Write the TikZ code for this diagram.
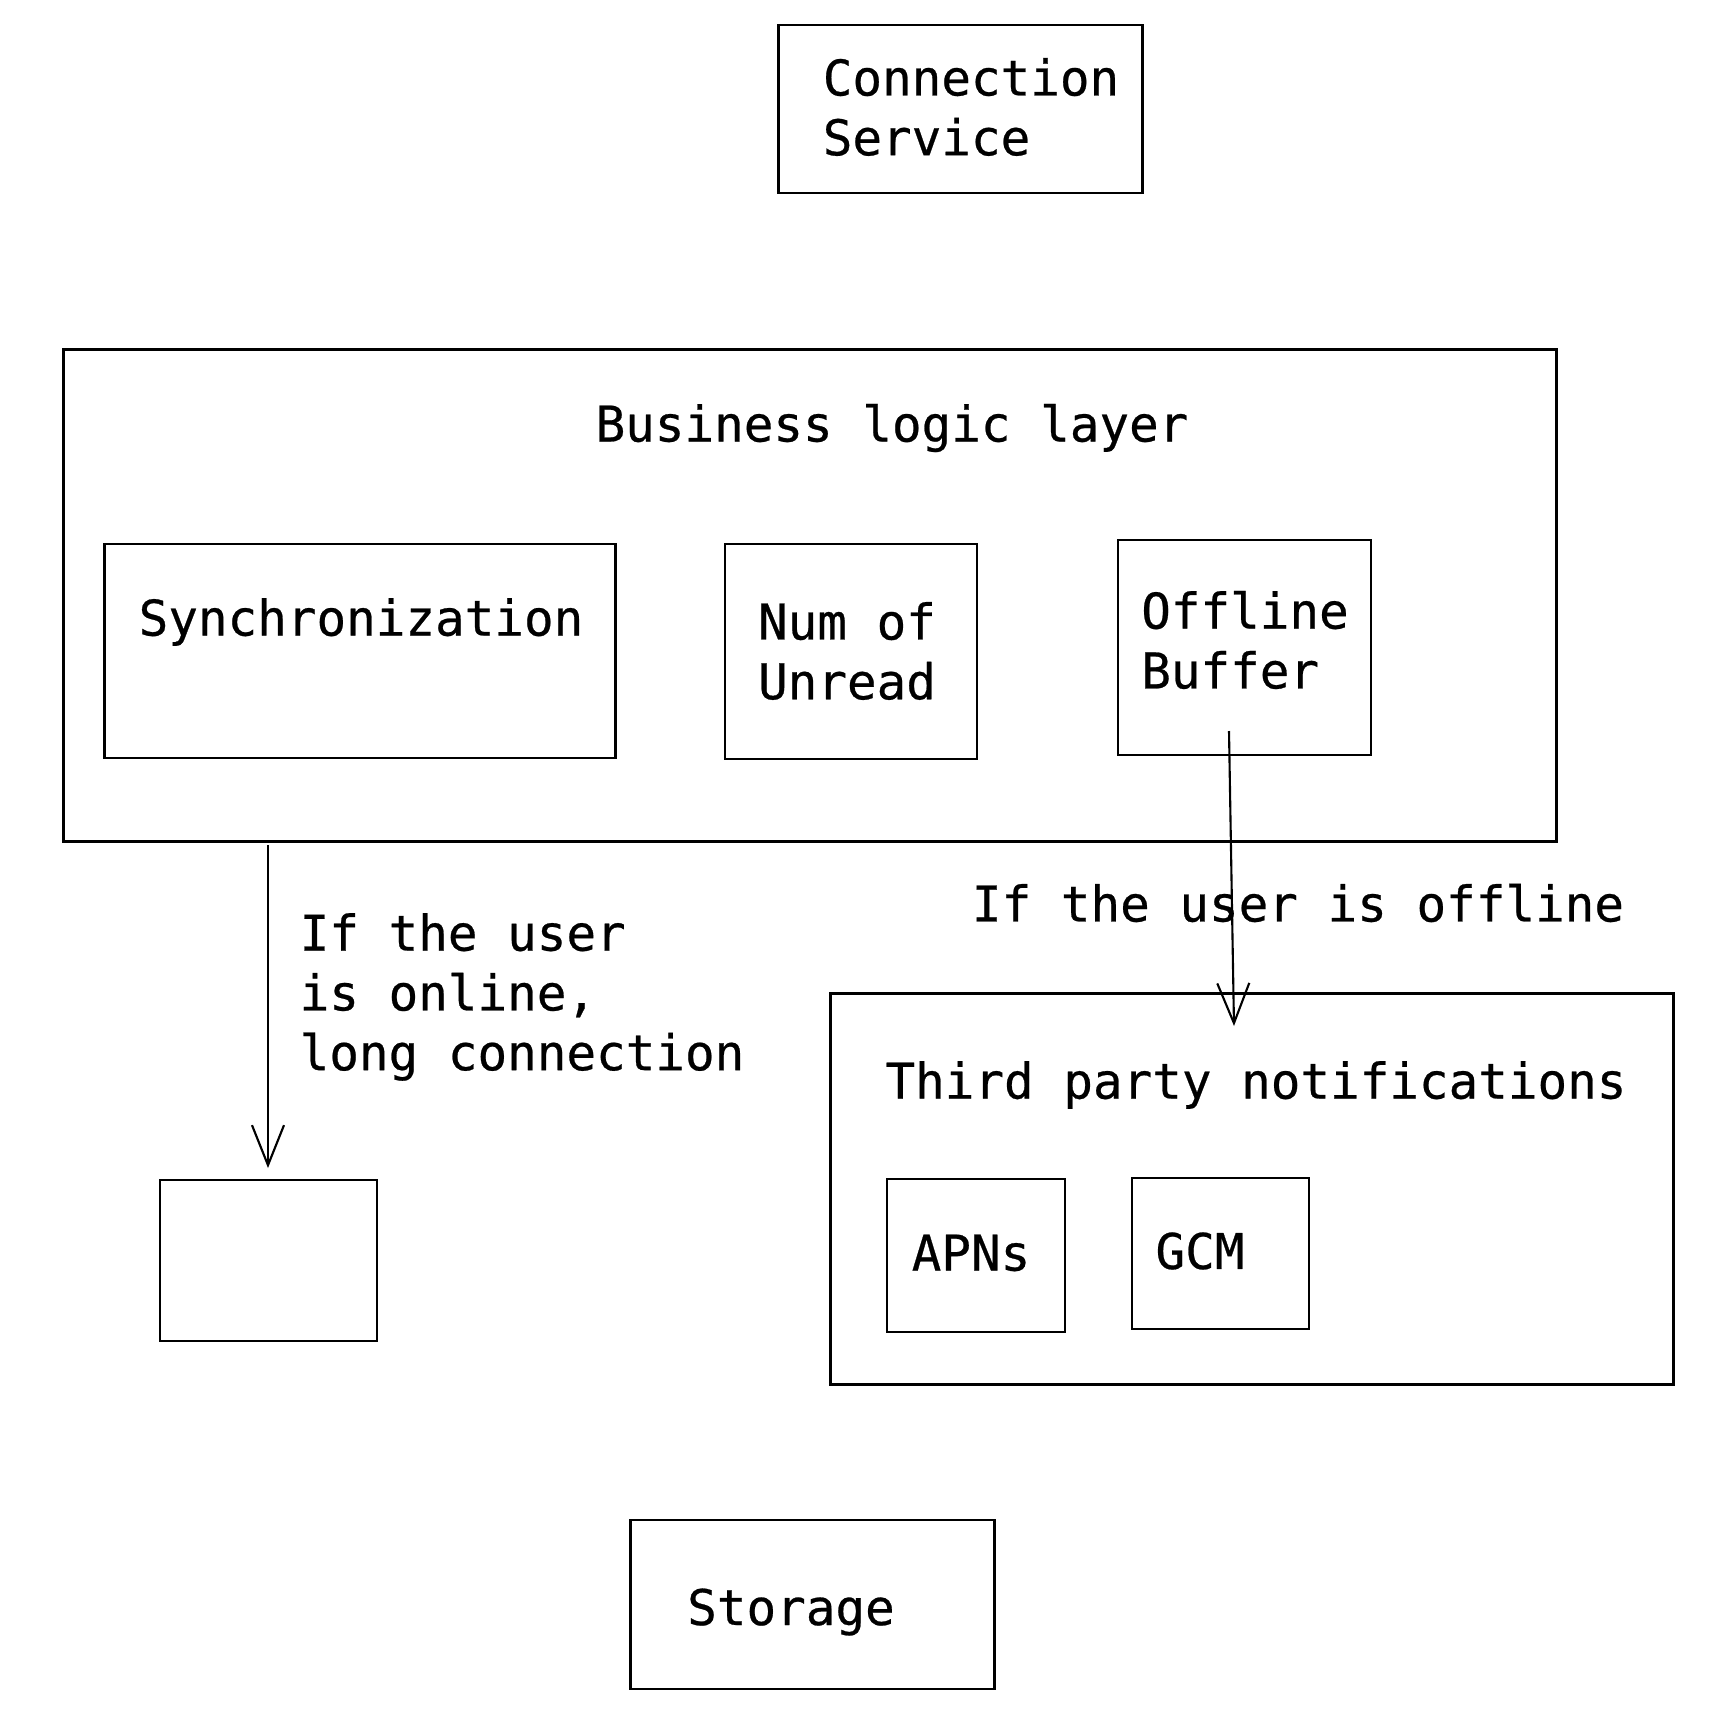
\documentclass[tikz,border=0pt]{standalone}
\usepackage{fontspec}
\setmonofont[FakeBold=0.5]{DejaVu Sans Mono}
\usetikzlibrary{arrows.meta}
\tikzset{
  box/.style={draw=black, line width=0.8pt, rectangle, inner sep=0pt},
  txt/.style={font=\ttfamily\fontsize{14}{17}\selectfont, align=left, inner sep=0pt},
  conn/.style={draw=black, line width=0.6pt, -{Straight Barb[length=4mm,width=3.2mm,line width=0.6pt]}}
}
\begin{document}
\begin{tikzpicture}[x=0.01cm,y=-0.01cm]
\useasboundingbox[fill=white] (0,0) rectangle (1726,1730);
% boxes
\node[box, minimum width=3.63cm, minimum height=1.68cm] (conn) at (960.5,109) {};
\node[txt] (connt) at (971,107) {Connection\\Service};
\node[box, minimum width=14.92cm, minimum height=4.91cm] (bll) at (810,595.5) {};
\node[txt] (bllt) at (892,428) {Business logic layer};
\node[box, minimum width=5.10cm, minimum height=2.14cm] (sync) at (360,651) {};
\node[txt] (synct) at (361,622) {Synchronization};
\node[box, minimum width=2.52cm, minimum height=2.15cm] (num) at (851,651.5) {};
\node[txt] (numt) at (847,651) {Num of\\Unread};
\node[box, minimum width=2.53cm, minimum height=2.15cm] (off) at (1244.5,647.5) {};
\node[txt] (offt) at (1245,640) {Offline\\Buffer};
\node[box, minimum width=2.17cm, minimum height=1.61cm] (empty) at (268.5,1260.5) {};
\node[box, minimum width=8.42cm, minimum height=3.90cm] (third) at (1252,1189) {};
\node[txt] (thirdt) at (1256,1085) {Third party notifications};
\node[box, minimum width=1.78cm, minimum height=1.53cm] (apns) at (976,1255.5) {};
\node[txt] (apnst) at (971,1253) {APNs};
\node[box, minimum width=1.77cm, minimum height=1.51cm] (gcm) at (1220.5,1253.5) {};
\node[txt] (gcmt) at (1200,1251) {GCM};
\node[box, minimum width=3.63cm, minimum height=1.69cm] (stor) at (812.5,1604.5) {};
\node[txt] (stort) at (791,1612) {Storage};
% labels
\node[txt, anchor=west] (onl) at (299,997) {If the user\\is online,\\long connection};
\node[txt] (offl) at (1298,903) {If the user is offline};
% connectors
\coordinate (a1) at (268,845);
\coordinate (a2) at (268,1168);
\draw[conn] (a1) -- (a2);
\coordinate (b1) at (1229,731);
\coordinate (b2) at (1234,1026);
\draw[conn] (b1) -- (b2);
\end{tikzpicture}
\end{document}
